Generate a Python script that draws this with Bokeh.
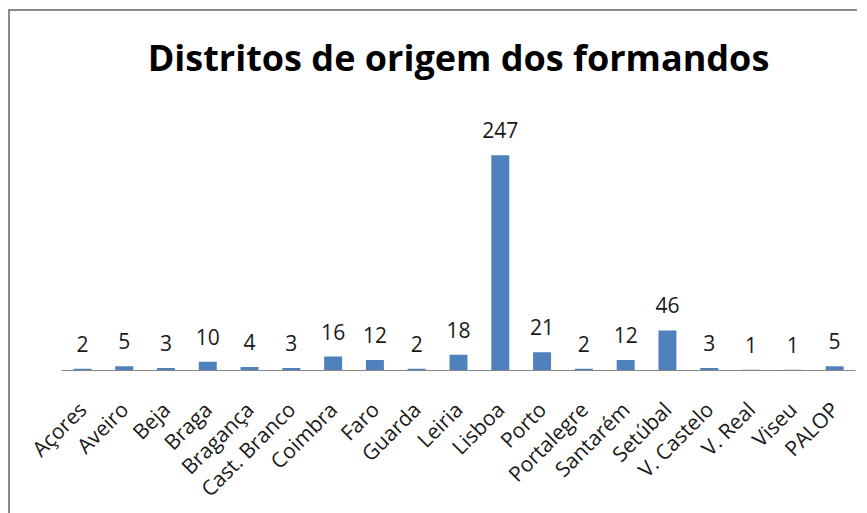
from math import pi
from bokeh.plotting import figure
from bokeh.models import ColumnDataSource, Range1d
from bokeh.embed import file_html
from bokeh.resources import INLINE

districts = ["Açores", "Aveiro", "Beja", "Braga", "Bragança", "Cast. Branco", "Coimbra",
             "Faro", "Guarda", "Leiria", "Lisboa", "Porto", "Portalegre", "Santarém",
             "Setúbal", "V. Castelo", "V. Real", "Viseu", "PALOP"]
counts = [2, 5, 3, 10, 4, 3, 16, 12, 2, 18, 247, 21, 2, 12, 46, 3, 1, 1, 5]

source = ColumnDataSource(data=dict(district=districts, count=counts,
                                    label=[str(c) for c in counts]))

p = figure(x_range=districts, y_range=Range1d(0, 326), width=849, height=504,
           output_backend="svg", toolbar_location=None,
           title="Distritos de origem dos formandos",
           min_border_left=51, min_border_right=4, min_border_top=75, min_border_bottom=120)

p.styles = {"border-left": "2px solid #888888", "border-top": "2px solid #888888",
            "margin-left": "8px", "margin-top": "9px"}

p.vbar(x="district", top="count", width=0.43, source=source,
       fill_color="#4F81BD", line_color=None)
p.text(x="district", y="count", text="label", source=source,
       text_align="center", text_baseline="bottom", y_offset=-17,
       text_font_size="21px", text_color="#1a1a1a", text_font={"value": "Open Sans"})

p.title.align = "center"
p.title.text_font = "Open Sans"
p.title.text_font_style = "bold"
p.title.text_font_size = "36px"
p.title.text_color = "#000000"

p.yaxis.visible = False
p.xaxis.axis_line_color = "#868686"
p.xaxis.axis_line_width = 1
p.xaxis.major_tick_line_color = None
p.xaxis.minor_tick_line_color = None
p.xaxis.major_label_orientation = pi / 4
p.xaxis.major_label_text_font = "Open Sans"
p.xaxis.major_label_text_font_size = "21px"
p.xaxis.major_label_text_color = "#1a1a1a"
p.xaxis.major_label_standoff = 29

p.xgrid.grid_line_color = None
p.ygrid.grid_line_color = None
p.outline_line_color = None
p.x_range.range_padding = 0

open("out.html", "w").write(file_html(p, INLINE))
